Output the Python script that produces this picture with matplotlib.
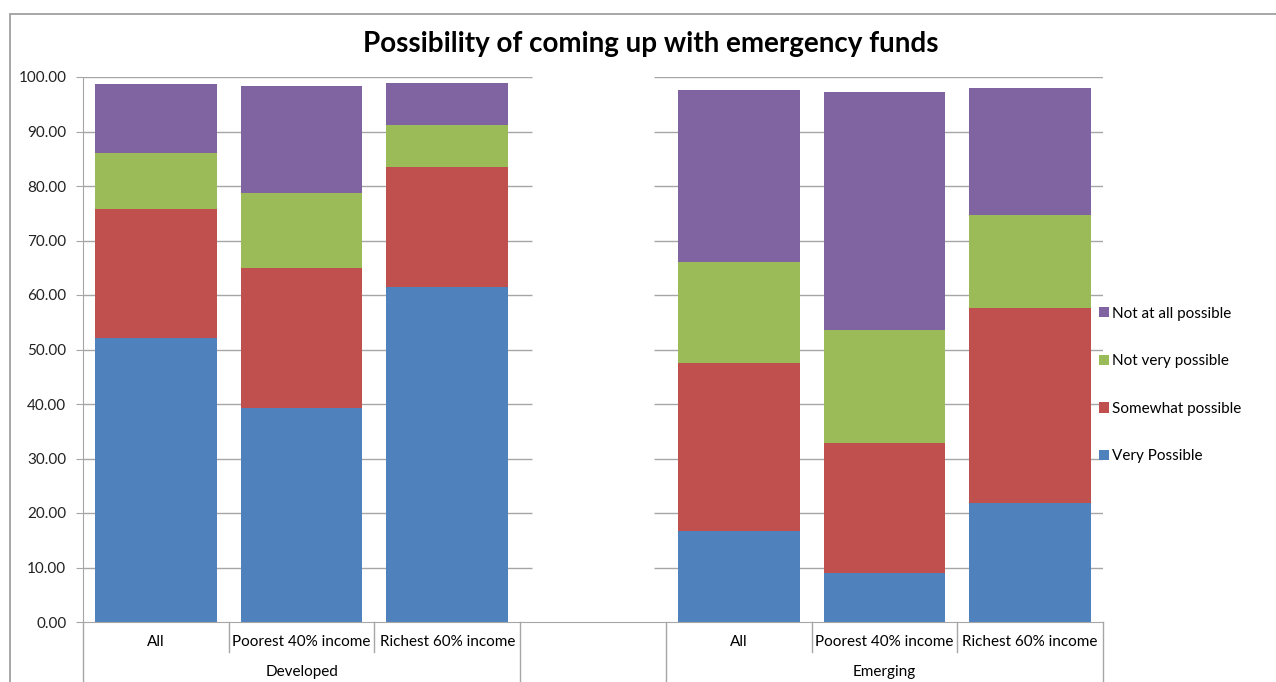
import numpy as np
import matplotlib.pyplot as plt
from matplotlib.patches import Rectangle
from matplotlib.lines import Line2D

plt.rcParams['font.family'] = ['Lato', 'DejaVu Sans']

groups = ["Developed", "Emerging"]
categories = ["All", "Poorest 40% income", "Richest 60% income"]
series = ["Very Possible", "Somewhat possible", "Not very possible", "Not at all possible"]
colors = ["#4F81BD", "#C0504D", "#9BBB59", "#8064A2"]

# Developed: All, Poorest 40%, Richest 60%
developed = {
    "Very Possible":       [52.2, 39.2, 61.4],
    "Somewhat possible":   [23.6, 25.8, 22.1],
    "Not very possible":   [10.2, 13.7, 7.7],
    "Not at all possible": [12.7, 19.6, 7.7],
}
# Emerging: All, Poorest 40%, Richest 60%
emerging = {
    "Very Possible":       [16.7, 9.0, 21.9],
    "Somewhat possible":   [30.8, 23.8, 35.7],
    "Not very possible":   [18.6, 20.8, 17.0],
    "Not at all possible": [31.6, 43.6, 23.4],
}

W, H = 1276, 682
fig = plt.figure(figsize=(W / 100, H / 100), dpi=100)
ax = fig.add_axes([83 / W, 1 - 622 / H, (1103 - 83) / W, (622 - 77) / H])

# three slots per group, one empty slot in between
x_dev = np.array([0, 1, 2])
x_emg = np.array([4, 5, 6])
width = 0.835
grid_col = "#a6a6a6"

# gridlines, broken across the empty slot
for v in range(10, 101, 10):
    ax.hlines(v, -0.5, 3 - width / 2, color=grid_col, lw=1, zorder=0)
    ax.hlines(v, 3 + width / 2, 6.5, color=grid_col, lw=1, zorder=0)

for xs, data in [(x_dev, developed), (x_emg, emerging)]:
    bottom = np.zeros(3)
    for s, c in zip(series, colors):
        vals = np.array(data[s])
        ax.bar(xs, vals, width, bottom=bottom, color=c, label=s, zorder=2)
        bottom += vals

ax.set_xlim(-0.5, 6.5)
ax.set_ylim(0, 100)
ax.set_yticks(range(0, 101, 10))
ax.set_yticklabels([f"{v:.2f}" for v in range(0, 101, 10)], fontsize=11, color="#222222")
ax.tick_params(axis="y", direction="out", length=5, color=grid_col, pad=7)
ax.set_xticks([])
for sp in ["top", "right"]:
    ax.spines[sp].set_visible(False)
ax.spines["left"].set_color(grid_col)
ax.spines["bottom"].set_color(grid_col)

# category axis separators and labels
for x in [0.5, 1.5, 4.5, 5.5]:
    ax.add_line(Line2D([x, x], [0, -0.055], transform=ax.get_xaxis_transform(),
                       color=grid_col, lw=1, clip_on=False))
for x in [-0.5, 2.5, 3.5, 6.5]:
    ax.add_line(Line2D([x, x], [0, -0.2], transform=ax.get_xaxis_transform(),
                       color=grid_col, lw=1, clip_on=False))
for xs in [x_dev, x_emg]:
    for x, lab in zip(xs, categories):
        ax.text(x, -0.037, lab, transform=ax.get_xaxis_transform(),
                ha="center", va="center", fontsize=11, color="black")
for xs, g in zip([x_dev, x_emg], groups):
    ax.text(xs.mean(), -0.091, g, transform=ax.get_xaxis_transform(),
            ha="center", va="center", fontsize=11, color="black")

handles, labels = ax.get_legend_handles_labels()
leg = fig.legend(handles[:4][::-1], labels[:4][::-1], loc="center left",
                 bbox_to_anchor=(1085 / W, 1 - 385 / H), frameon=False,
                 fontsize=11, handlelength=0.65, handleheight=0.65,
                 handletextpad=0.25, labelspacing=2.2)

fig.text(651 / W, 1 - 44 / H, "Possibility of coming up with emergency funds",
         ha="center", va="center", fontsize=20, fontweight="bold")

# chart area border
fig.patches.append(Rectangle((10 / W, -0.1), 1.2, 1.1 - 14 / H, transform=fig.transFigure,
                             fill=False, edgecolor="#a0a0a0", lw=1.3))

fig.savefig("out.png", dpi=100, facecolor="white")
